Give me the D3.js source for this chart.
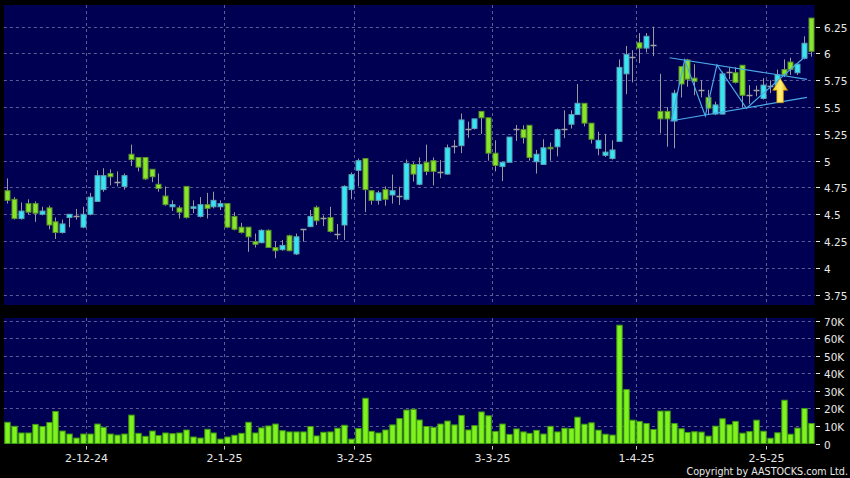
<!DOCTYPE html>
<html><head><meta charset="utf-8">
<script src="https://cdn.jsdelivr.net/npm/d3@7"></script>
<style>html,body{margin:0;padding:0;background:#000;}svg{display:block;}</style>
</head><body>
<script>
// ---- data (bar index 0..117, daily) ----
const opens  = [4.72,4.64,4.46,4.60,4.60,4.50,4.56,4.43,4.33,4.47,4.48,4.38,4.50,4.62,4.73,4.88,4.80,4.76,5.06,5.03,5.03,4.92,4.78,4.67,4.57,4.56,4.76,4.555,4.48,4.59,
  4.57,4.57,4.60,4.48,4.38,4.38,4.245,4.235,4.35,4.19,4.17,4.30,4.13,4.36,4.385,4.565,4.47,4.47,4.316,4.40,4.73,4.91,5.02,4.72,4.63,4.73,4.68,4.67,4.64,4.965,
  4.78,4.985,5.00,4.89,4.875,5.14,5.14,5.30,5.30,5.46,5.40,5.07,4.945,4.985,5.296,5.29,5.33,4.99,4.965,5.125,5.13,5.30,5.34,5.43,5.535,5.35,5.115,5.05,5.02,5.18,
  5.81,5.964,6.10,6.05,6.08,5.46,5.46,5.37,5.877,5.94,5.77,5.655,5.59,5.435,5.435,5.83,5.82,5.89,5.61,5.66,5.58,5.70,5.70,5.85,5.92,5.82,5.955,6.33];
const highs  = [4.835,4.66,4.61,4.64,4.62,4.57,4.58,4.47,4.45,4.50,4.55,4.57,4.70,4.91,4.93,4.92,4.90,4.88,5.15,5.03,5.03,4.92,4.88,4.76,4.63,4.58,4.76,4.63,4.66,4.70,
  4.71,4.63,4.60,4.52,4.42,4.38,4.32,4.36,4.36,4.245,4.26,4.31,4.32,4.36,4.54,4.58,4.49,4.57,4.41,4.77,4.89,5.02,5.02,4.72,4.72,4.76,4.87,4.757,5.01,4.985,
  5.03,5.15,5.03,5.006,5.15,5.193,5.44,5.364,5.39,5.46,5.40,5.19,4.985,5.22,5.333,5.33,5.33,5.10,5.20,5.17,5.30,5.47,5.47,5.715,5.535,5.35,5.27,5.25,5.19,5.945,
  6.07,6.03,6.19,6.19,6.25,5.81,5.50,5.66,5.88,5.95,5.90,5.75,5.66,5.55,5.83,5.87,5.87,5.89,5.705,5.70,5.77,5.75,5.85,5.945,5.96,5.90,6.16,6.33];
const lows   = [4.60,4.45,4.45,4.50,4.43,4.49,4.36,4.27,4.32,4.38,4.45,4.37,4.49,4.62,4.71,4.77,4.76,4.73,4.95,4.90,4.82,4.80,4.71,4.58,4.53,4.46,4.46,4.51,4.47,4.46,
  4.555,4.54,4.37,4.35,4.32,4.15,4.19,4.23,4.19,4.09,4.16,4.155,4.12,4.245,4.38,4.40,4.39,4.33,4.266,4.26,4.64,4.76,4.52,4.59,4.59,4.58,4.60,4.587,4.63,4.805,
  4.77,4.865,4.77,4.836,4.87,5.068,5.07,5.214,5.29,5.25,5.00,4.90,4.81,4.985,5.184,5.16,5.00,4.88,4.96,5.00,5.04,5.21,5.30,5.43,5.32,5.16,5.05,5.035,5.01,5.18,
  5.62,5.73,5.91,6.01,5.975,5.255,5.13,5.115,5.59,5.69,5.61,5.59,5.435,5.425,5.43,5.76,5.72,5.50,5.53,5.60,5.57,5.63,5.69,5.78,5.80,5.80,5.945,5.97];
const closes = [4.63,4.46,4.53,4.52,4.51,4.53,4.40,4.33,4.41,4.50,4.48,4.50,4.66,4.86,4.86,4.85,4.80,4.86,5.01,4.94,4.83,4.85,4.74,4.59,4.59,4.52,4.47,4.57,4.59,4.555,
  4.63,4.60,4.38,4.36,4.33,4.29,4.22,4.35,4.19,4.16,4.21,4.16,4.29,4.36,4.48,4.44,4.47,4.34,4.316,4.76,4.87,5.00,4.73,4.63,4.70,4.64,4.72,4.67,4.975,4.875,
  4.965,4.90,4.90,4.89,5.12,5.14,5.38,5.30,5.39,5.40,5.07,4.955,4.985,5.22,5.296,5.215,5.03,5.06,5.12,5.11,5.29,5.30,5.43,5.535,5.35,5.20,5.19,5.08,5.10,5.87,
  5.99,5.964,6.05,6.16,6.08,5.39,5.39,5.63,5.715,5.76,5.74,5.655,5.49,5.52,5.81,5.83,5.73,5.61,5.61,5.66,5.705,5.70,5.80,5.80,5.85,5.90,6.095,6.02];
const volumes = [12.1,9.8,6.0,6.0,10.9,9.7,12.0,18.3,7.1,5.4,3.1,5.4,5.4,11.1,9.2,5.4,4.8,5.4,16.2,5.8,4.1,7.1,4.5,6.0,5.6,6.0,7.7,3.7,3.1,8.1,
  6.0,2.5,3.7,4.7,5.8,12.1,6.0,8.9,10.0,11.1,7.3,6.6,6.6,6.6,9.7,4.3,6.4,6.6,8.7,10.4,2.5,8.5,25.8,6.9,6.0,7.7,10.6,14.2,19.1,19.5,
  13.4,9.7,9.2,11.1,12.8,10.6,16.0,7.7,10.2,18.0,15.8,6.9,11.1,5.2,8.3,6.6,5.8,7.5,5.4,9.8,6.6,8.7,8.5,15.0,11.0,11.8,7.6,5.3,4.8,67.5,
  30.8,13.3,12.6,11.4,8.0,18.5,18.5,11.4,8.4,6.3,6.7,6.5,4.2,9.9,14.1,10.7,12.6,5.9,6.8,13.3,7.0,3.0,6.1,24.7,5.3,8.8,20.0,11.4].map(v => v * 1000);
const priceTicks = [3.75,4,4.25,4.5,4.75,5,5.25,5.5,5.75,6,6.25];
const volTicks = [0,10000,20000,30000,40000,50000,60000,70000];
const monthStartBars = [12,32,51,71,92,111];
const monthLabels = ["2-12-24","2-1-25","3-2-25","3-3-25","1-4-25","2-5-25"];
// pattern drawing: [bar index, price]
const triUpper = [[96.4,5.96],[116.4,5.759]];
const triLower = [[96.5,5.37],[116.4,5.59]];
const zigzag = [[96.7,5.38],[98.6,5.94],[101.6,5.417],[103.3,5.893],[107.6,5.489],[116.1,5.97]];
const arrowAt = {bar:112.5, top:5.768, bottom:5.54};

// ---- layout ----
const W = 850, H = 478;
const L = 3.87, R = 814.5;
const P = {top:5, bottom:305};
const V = {top:318, bottom:443.5};
const svg = d3.select("body").append("svg").attr("width",W).attr("height",H)
  .style("font-family","'DejaVu Sans', Verdana, sans-serif");
svg.append("rect").attr("width",W).attr("height",H).attr("fill","#000");

const idx = d3.range(opens.length);
const x = d3.scalePoint().domain(idx).range([L,R]).padding(0.5);
const step = x.step();
const xi = v => x(0) + v*step;
const yP = d3.scaleLinear().domain([3.654,6.452]).range([P.bottom,P.top]);
const yV = d3.scaleLinear().domain([0,71600]).range([V.bottom,V.top]);

const navy = "#000052", grid = "#5c5c96";
svg.append("rect").attr("x",L).attr("y",P.top).attr("width",R-L).attr("height",P.bottom-P.top).attr("fill",navy);
svg.append("rect").attr("x",L).attr("y",V.top).attr("width",R-L).attr("height",V.bottom-V.top).attr("fill",navy);

// grids
const gP = svg.append("g");
gP.selectAll("line.h").data(priceTicks).join("line")
  .attr("x1",L).attr("x2",R).attr("y1",d=>Math.round(yP(d))+0.5).attr("y2",d=>Math.round(yP(d))+0.5)
  .attr("stroke",grid).attr("stroke-dasharray","3,3");
const gV = svg.append("g");
gV.selectAll("line.h").data(volTicks.slice(1)).join("line")
  .attr("x1",L).attr("x2",R).attr("y1",d=>Math.round(yV(d))+0.5).attr("y2",d=>Math.round(yV(d))+0.5)
  .attr("stroke",grid).attr("stroke-dasharray","3,3");
const monthX = b => Math.round(x(b) - step/2) + 0.5;
[[P.top,P.bottom],[V.top,V.bottom]].forEach(([t,b])=>{
  svg.append("g").selectAll("line").data(monthStartBars).join("line")
    .attr("x1",monthX).attr("x2",monthX).attr("y1",t).attr("y2",b)
    .attr("stroke",grid).attr("stroke-dasharray","3,3");
});

// candles
const cyan = "#36e4f2", cyanS = "#5aa2b6", green = "#88e62a", greenS = "#5a902c", grey = "#a0a0a0";
const bw = 5;
const gc = svg.append("g");
idx.forEach(i=>{
  const o=opens[i], c=closes[i], h=highs[i], l=lows[i];
  const cx = Math.round(x(i))+0.5;
  gc.append("line").attr("x1",cx).attr("x2",cx).attr("y1",yP(h)).attr("y2",yP(l)).attr("stroke","#9a9a9a").attr("stroke-width",1);
  if (o===c) {
    gc.append("line").attr("x1",cx-3).attr("x2",cx+3).attr("y1",Math.round(yP(o))+0.5).attr("y2",Math.round(yP(o))+0.5)
      .attr("stroke",grey).attr("stroke-width",1.5);
  } else {
    const up = c>o;
    const top = yP(Math.max(o,c)), bot = yP(Math.min(o,c));
    gc.append("rect").attr("x",cx-bw/2).attr("y",top).attr("width",bw).attr("height",Math.max(1.5,bot-top))
      .attr("fill",up?cyan:green).attr("stroke",up?cyanS:greenS).attr("stroke-width",1);
  }
});

// volume
svg.append("g").selectAll("rect").data(idx).join("rect")
  .attr("x",i=>Math.round(x(i))+0.5-2.7).attr("width",5.4)
  .attr("y",i=>yV(volumes[i])).attr("height",i=>V.bottom-yV(volumes[i]))
  .attr("fill","#80f21e").attr("stroke","#3e9a12").attr("stroke-width",1);

// pattern lines
const line = d3.line().x(d=>xi(d[0])).y(d=>yP(d[1]));
[triUpper,triLower,zigzag].forEach(pts=>{
  svg.append("path").attr("d",line(pts)).attr("fill","none").attr("stroke","#4aa8e8").attr("stroke-width",1.2);
});
// arrow
const defs = svg.append("defs");
const grad = defs.append("linearGradient").attr("id","ag").attr("x1",0).attr("x2",1).attr("y1",0).attr("y2",0);
grad.append("stop").attr("offset","0%").attr("stop-color","#ffd21a");
grad.append("stop").attr("offset","55%").attr("stop-color","#fff07a");
grad.append("stop").attr("offset","100%").attr("stop-color","#e0a000");
{
  const ax = xi(arrowAt.bar), ty = yP(arrowAt.top), by = yP(arrowAt.bottom);
  const hh = 12, hw = 7.5, sw = 3.4;
  svg.append("path").attr("d",`M${ax},${ty} L${ax+hw},${ty+hh} L${ax+sw},${ty+hh} L${ax+sw},${by} L${ax-sw},${by} L${ax-sw},${ty+hh} L${ax-hw},${ty+hh} Z`)
    .attr("fill","url(#ag)").attr("stroke","#c08000").attr("stroke-width",0.6);
}

// right axes
const txt = "#e8e8e8";
svg.append("g").selectAll("g").data(priceTicks).join("g").each(function(d){
  const g=d3.select(this), yy=Math.round(yP(d))+0.5;
  g.append("line").attr("x1",816).attr("x2",820).attr("y1",yy).attr("y2",yy).attr("stroke",txt);
  g.append("text").attr("x",824).attr("y",yy+4).attr("fill",txt).attr("font-size","10.5px").text(String(d));
});
svg.append("g").selectAll("g").data(volTicks).join("g").each(function(d){
  const g=d3.select(this), yy=Math.round(yV(d))+0.5;
  g.append("line").attr("x1",816).attr("x2",820).attr("y1",yy).attr("y2",yy).attr("stroke",txt);
  g.append("text").attr("x",824).attr("y",yy+4).attr("fill",txt).attr("font-size","10.5px").text(d===0?"0":(d/1000)+"K");
});
// date axis
svg.append("g").selectAll("g").data(monthStartBars).join("g").each(function(b,k){
  const g=d3.select(this), xx=monthX(b);
  g.append("line").attr("x1",xx).attr("x2",xx).attr("y1",446).attr("y2",449.5).attr("stroke","#ccc");
  g.append("text").attr("x",xx).attr("y",462).attr("text-anchor","middle").attr("fill",txt).attr("font-size","11px").text(monthLabels[k]);
});
svg.append("text").attr("x",848).attr("y",474.5).attr("text-anchor","end").attr("fill",txt).attr("font-size","9.6px")
  .text("Copyright by AASTOCKS.com Ltd.");
</script>
</body></html>
